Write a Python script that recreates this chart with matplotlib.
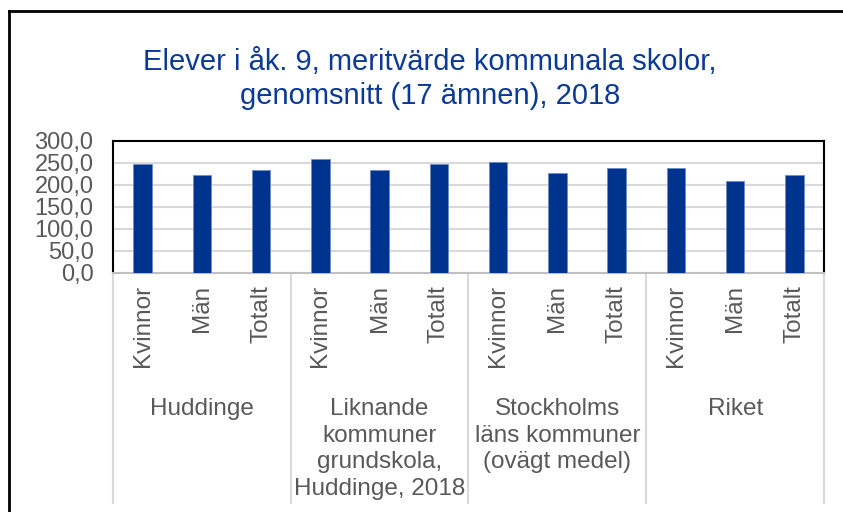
import matplotlib
matplotlib.use("Agg")
import matplotlib.pyplot as plt
from matplotlib.lines import Line2D
from matplotlib.transforms import blended_transform_factory

plt.rcParams['font.family'] = ['Liberation Sans', 'DejaVu Sans']

title = "Elever i åk. 9, meritvärde kommunala skolor,\ngenomsnitt (17 ämnen), 2018"
groups = ["Huddinge", "Liknande\nkommuner\ngrundskola,\nHuddinge, 2018",
          "Stockholms\nläns kommuner\n(ovägt medel)", "Riket"]
subcats = ["Kvinnor", "Män", "Totalt"]
huddinge = [246, 222, 233]
liknande = [258, 233, 246]
stockholm = [252, 226, 238]
riket = [238, 208, 223]
yticks = [0, 50, 100, 150, 200, 250, 300]
ytick_labels = ["0,0", "50,0", "100,0", "150,0", "200,0", "250,0", "300,0"]

values = huddinge + liknande + stockholm + riket
x = list(range(len(values)))

bar_color = '#00338D'
grey_text = '#595959'

fig = plt.figure(figsize=(8.43, 5.12), dpi=100)
ax = fig.add_axes([0.134, 0.4674, 0.8435, 0.2578])

ax.bar(x, values, width=0.315, color=bar_color, edgecolor='#6F8CC8', linewidth=0.6, zorder=3)
ax.set_xlim(-0.5, len(values) - 0.5)
ax.set_ylim(0, 300)
ax.set_yticks(yticks)
ax.set_yticklabels(ytick_labels, fontsize=17, color=grey_text)
ax.tick_params(axis='y', length=0, pad=14)
ax.set_xticks([])
ax.grid(axis='y', color='#D9D9D9', linewidth=1.5, zorder=0)

for side in ['top', 'left', 'right']:
    ax.spines[side].set_color('black')
    ax.spines[side].set_linewidth(1.5)
ax.spines['bottom'].set_color('#BFBFBF')
ax.spines['bottom'].set_linewidth(1.5)

# category labels below the axis
trans = blended_transform_factory(ax.transData, fig.transFigure)
for i, xi in enumerate(x):
    ax.text(xi, 0.443, subcats[i % 3], transform=trans, rotation=90,
            ha='center', va='top', fontsize=17.5, color=grey_text, clip_on=False)
for g, name in enumerate(groups):
    ax.text(3 * g + 1, 0.223, name, transform=trans, ha='center', va='top',
            fontsize=17.5, color=grey_text, linespacing=1.28, multialignment='center')
for b in [-0.5, 2.5, 5.5, 8.5, 11.5]:
    ax.add_line(Line2D([b, b], [0.4674, 0.0176], transform=trans, color='#D9D9D9',
                       linewidth=1.5, clip_on=False))

fig.text(0.5103, 0.906, title, ha='center', va='top', fontsize=21,
         color='#0B3A96', linespacing=1.28)

# outer chart border
fig.add_artist(Line2D([9 / 843, 1.0], [1 - 11 / 512, 1 - 11 / 512], transform=fig.transFigure,
                      color='black', linewidth=2))
fig.add_artist(Line2D([9 / 843, 9 / 843], [0.0, 1 - 11 / 512], transform=fig.transFigure,
                      color='black', linewidth=2))

fig.savefig("out.png", dpi=100)
